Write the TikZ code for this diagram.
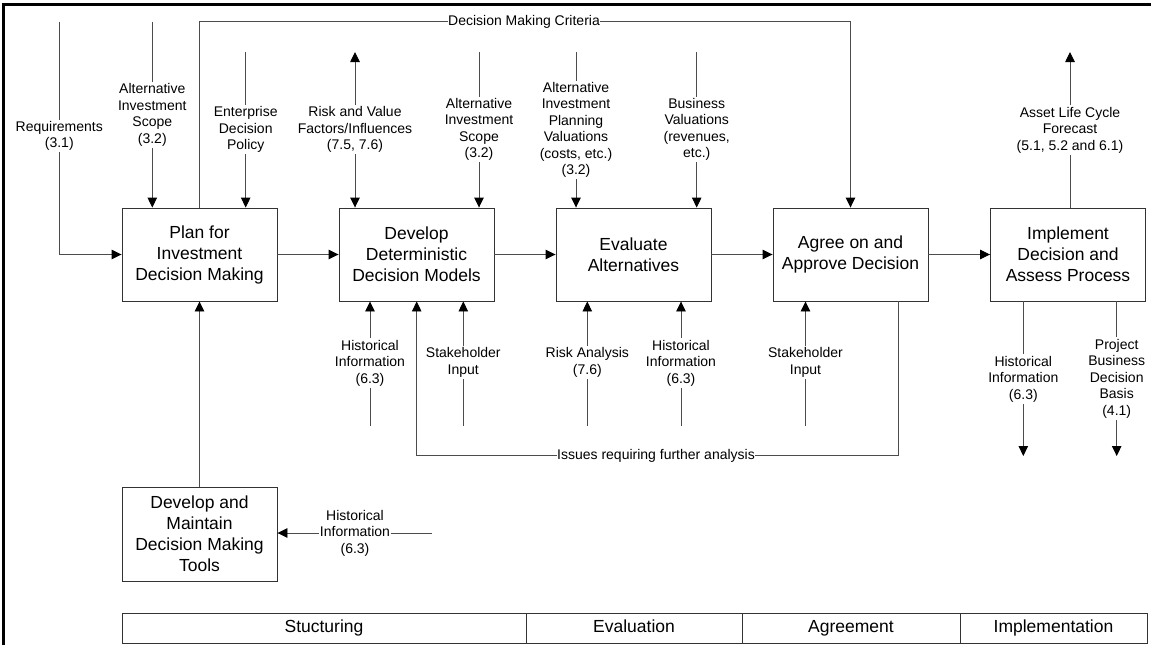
\documentclass[tikz,border=0pt]{standalone}
\usepackage{fontspec}
\setmainfont{Liberation Sans}
\usetikzlibrary{arrows.meta}
\begin{document}
\begin{tikzpicture}[x=1pt,y=-1pt,
  box/.style={draw=black!80, line width=0.9pt, minimum width=155pt, minimum height=93pt,
    align=center, font=\fontsize{17.5}{21}\selectfont, inner sep=0pt},
  lbl/.style={fill=white, align=center, font=\fontsize{14}{16.5}\selectfont, inner sep=1.5pt},
  flow/.style={draw=black!70, line width=0.9pt},
  tip/.tip={Triangle[length=10pt,width=9.5pt,color=black]},
  arr/.style={flow, -tip},
  twoway/.style={flow, tip-tip},
  phase/.style={draw=black!80, line width=0.9pt, minimum height=30pt,
    font=\fontsize{17.5}{21}\selectfont, inner sep=0pt, text height=12.5pt, text depth=3.5pt}]

\useasboundingbox (0,0) rectangle (1151,645);

% heavy frame along the top and left edges
\draw[line width=3pt] (3.5,645) -- (3.5,4.5) -- (1151,4.5);

% process boxes
\node[box] (b1) at (199.5,254.5) {Plan for\\Investment\\Decision Making};
\node[box] (b2) at (416.5,254.5) {Develop\\Deterministic\\Decision Models};
\node[box] (b3) at (633.5,254.5) {Evaluate\\Alternatives};
\node[box] (b4) at (850.5,254.5) {Agree on and\\Approve Decision};
\node[box] (b5) at (1068,254.5) {Implement\\Decision and\\Assess Process};
\node[box, minimum height=94pt] (b6) at (199.5,534) {Develop and\\Maintain\\Decision Making\\Tools};

% main chain
\draw[arr] (b1) -- (b2);
\draw[arr] (b2) -- (b3);
\draw[arr] (b3) -- (b4);
\draw[arr] (b4) -- (b5);
\draw[arr] (b6) -- (b1);

% free ends of the inputs and outputs
\coordinate (req) at (59.3,21.7);
\coordinate (scA) at (152.3,21.7);
\coordinate (pol) at (245.7,52);
\coordinate (rsk) at (355,52);
\coordinate (scB) at (479,52);
\coordinate (val) at (576,52);
\coordinate (bus) at (696.7,52);
\coordinate (alc) at (1070,52);
\coordinate (crit) at (199.5,21.7);
\coordinate (hiA) at (370,425.7);
\coordinate (stA) at (463.3,425.7);
\coordinate (ra) at (587.3,425.7);
\coordinate (hiB) at (681,425.7);
\coordinate (stB) at (805.5,425.7);
\coordinate (hiC) at (1023.3,456);
\coordinate (pbd) at (1116.7,456);
\coordinate (iss1) at (898.6,455.7);
\coordinate (iss2) at (416.7,455.7);
\coordinate (hiT) at (432,533);

% connectors
\draw[arr] (req) |- (b1.west);
\draw[arr] (scA) -- (scA |- b1.north);
\draw[arr] (pol) -- (pol |- b1.north);
\draw[twoway] (rsk) -- (rsk |- b2.north);
\draw[arr] (scB) -- (scB |- b2.north);
\draw[arr] (val) -- (val |- b3.north);
\draw[arr] (bus) -- (bus |- b3.north);
\draw[arr] (b5.north -| alc) -- (alc);
\draw[arr] (b1.north) -- (crit) -| (b4.north);

\draw[arr] (hiA) -- (hiA |- b2.south);
\draw[arr] (stA) -- (stA |- b2.south);
\draw[arr] (ra) -- (ra |- b3.south);
\draw[arr] (hiB) -- (hiB |- b3.south);
\draw[arr] (stB) -- (stB |- b4.south);
\draw[arr] (hiC |- b5.south) -- (hiC);
\draw[arr] (pbd |- b5.south) -- (pbd);
\draw[arr] (iss1 |- b4.south) -- (iss1) -- (iss2) -- (iss2 |- b2.south);
\draw[arr] (hiT) -- (hiT -| b6.east);

% labels sitting on the connectors
\node[lbl] (lreq) at (59.3,136) {Requirements\\(3.1)};
\node[lbl] (lscA) at (152.3,115) {Alternative\\Investment\\Scope\\(3.2)};
\node[lbl] (lpol) at (245.7,129.5) {Enterprise\\Decision\\Policy};
\node[lbl] (lrsk) at (355,129.5) {Risk and Value\\Factors/Influences\\(7.5, 7.6)};
\node[lbl] (lscB) at (479,129.5) {Alternative\\Investment\\Scope\\(3.2)};
\node[lbl] (lval) at (576,130) {Alternative\\Investment\\Planning\\Valuations\\(costs, etc.)\\(3.2)};
\node[lbl] (lbus) at (696.7,129.5) {Business\\Valuations\\(revenues,\\etc.)};
\node[lbl] (lalc) at (1070,130) {Asset Life Cycle\\Forecast\\(5.1, 5.2 and 6.1)};
\node[lbl, inner xsep=0.5pt] (lcrit) at (524,21.7) {Decision Making Criteria};

\node[lbl] (lhiA) at (370,363) {Historical\\Information\\(6.3)};
\node[lbl] (lstA) at (463.3,362.5) {Stakeholder\\Input};
\node[lbl] (lra) at (587.3,362.5) {Risk Analysis\\(7.6)};
\node[lbl] (lhiB) at (681,363) {Historical\\Information\\(6.3)};
\node[lbl] (lstB) at (805.5,362.5) {Stakeholder\\Input};
\node[lbl] (lhiC) at (1023.3,379) {Historical\\Information\\(6.3)};
\node[lbl] (lpbd) at (1116.7,378.5) {Project\\Business\\Decision\\Basis\\(4.1)};
\node[lbl, inner xsep=0.5pt] (liss) at (656,455.7) {Issues requiring further analysis};
\node[lbl, inner xsep=0.5pt] (lhiT) at (355,533) {Historical\\Information\\(6.3)};

% phase bar
\node[phase, minimum width=404pt] (ph1) at (324,628) {Stucturing};
\node[phase, minimum width=216pt] (ph2) at (634,628) {Evaluation};
\node[phase, minimum width=218pt] (ph3) at (851,628) {Agreement};
\node[phase, minimum width=187pt] (ph4) at (1053.5,628) {Implementation};
\end{tikzpicture}
\end{document}
